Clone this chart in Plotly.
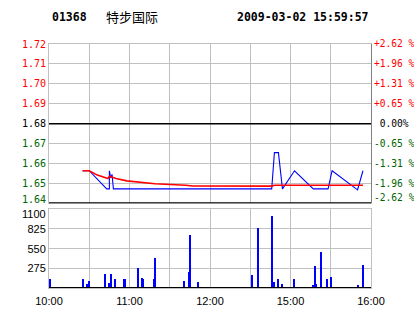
import plotly.graph_objects as go

# ---- data ----
code = "01368"
name = "特步国际"
stamp = "2009-03-02 15:59:57"
prev_close = 1.68
price_step = 0.011

time_ticks = [0, 30, 60, 90, 120, 150, 180, 210, 240]
time_labels = ["10:00", "", "11:00", "", "12:00", "", "15:00", "", "16:00"]

price_t = [25, 30, 43, 45, 45, 46, 47, 48, 166, 168, 171, 174, 183, 197, 208, 211, 229, 230, 234]
price_v = [1.654, 1.654, 1.644, 1.644, 1.654, 1.650, 1.652, 1.644, 1.644, 1.664, 1.664,
           1.644, 1.654, 1.644, 1.644, 1.654, 1.644, 1.6435, 1.654]

avg_t = [25, 30, 36, 44, 45, 48, 50, 58, 68, 79, 102, 107, 166, 168, 234]
avg_v = [1.654, 1.654, 1.6516, 1.6497, 1.6510, 1.6501, 1.6497, 1.6484, 1.6475, 1.6468,
         1.6460, 1.6456, 1.6455, 1.6460, 1.6460]

vol_t = [1, 25, 28, 30, 42, 45, 46, 49, 56, 57, 66, 69, 70, 78, 79, 101, 104, 105, 111,
         151, 156, 166, 168, 171, 174, 183, 197, 198, 199, 203, 207, 210, 230, 234]
vol_v = [116, 116, 46, 88, 185, 60, 185, 116, 116, 116, 269, 130, 116, 116, 422, 88, 213, 742, 74,
         171, 840, 998, 74, 116, 46, 116, 39, 297, 46, 505, 116, 144, 32, 311]

vol_ticks = [275, 550, 825, 1100]

RED = "#ff0000"
GREEN = "#006400"
GRID = "#c0c0c0"

# price / percent tick labels
p_vals = [round(prev_close + k * price_step, 4) for k in range(-4, 5)]


def labels(v):
    pct = (v - prev_close) / prev_close * 100
    if abs(pct) < 1e-9:
        return "black", f"{v:.2f}", " 0.00%"
    if pct > 0:
        return RED, f"{v:.2f}", f"+{pct:.2f} %"
    return GREEN, f"{v:.2f}", f"-{abs(pct):.2f} %"


left_txt, right_txt = [], []
for i, v in enumerate(p_vals):
    c, l, r = labels(v)
    if i == 0:  # bottom edge label drawn as annotation (shifted up)
        left_txt.append("")
        right_txt.append("")
    else:
        left_txt.append(f'<span style="color:{c}">{l}</span>')
        right_txt.append(f'<span style="color:{c}">{r}</span>')

prange = [p_vals[0], p_vals[-1]]

fig = go.Figure()
fig.add_trace(go.Scatter(x=price_t, y=price_v, mode="lines", line=dict(color="#0000ff", width=1.1),
                         xaxis="x", yaxis="y", hoverinfo="skip"))
fig.add_trace(go.Scatter(x=avg_t, y=avg_v, mode="lines", line=dict(color=RED, width=1.6),
                         xaxis="x", yaxis="y", hoverinfo="skip"))
fig.add_trace(go.Scatter(x=[0], y=[prev_close], mode="lines", opacity=0,
                         xaxis="x", yaxis="y3", hoverinfo="skip"))
fig.add_trace(go.Bar(x=vol_t, y=vol_v, width=0.8, marker=dict(color="#0000ff", line=dict(width=0)),
                     xaxis="x2", yaxis="y2", hoverinfo="skip"))

price_dom = [0.347, 1.0]
vol_dom = [0.0, 0.3225]

mono = dict(family="DejaVu Sans Mono", size=10, color="black")
sans = dict(family="Liberation Sans", size=11, color="black")

PLOT_W, PLOT_H, ML, MT = 322, 244, 49, 44


def px_x(px):
    return (px - ML) / PLOT_W


def px_y(py):
    return (MT + PLOT_H - py) / PLOT_H


c0, l0, r0 = labels(p_vals[0])

fig.update_layout(
    width=414, height=314,
    margin=dict(l=49, r=43, t=44, b=26, autoexpand=False),
    paper_bgcolor="white", plot_bgcolor="white",
    showlegend=False, bargap=0,
    xaxis=dict(domain=[0, 1], anchor="y", range=[0, 240], tickvals=time_ticks, automargin=False,
               showticklabels=False, ticks="", showgrid=True, gridcolor=GRID, gridwidth=1,
               showline=True, linecolor=GRID, linewidth=1, mirror=True, zeroline=False),
    xaxis2=dict(domain=[0, 1], anchor="y2", matches="x", range=[0, 240], tickvals=time_ticks,
                ticktext=time_labels, ticks="outside", ticklen=3, tickcolor="white", automargin=False,
                tickfont=sans, showgrid=True, gridcolor=GRID, gridwidth=1,
                showline=True, linecolor=GRID, linewidth=1, mirror=True, zeroline=False),
    yaxis=dict(domain=price_dom, anchor="x", range=prange, tickvals=p_vals, ticktext=left_txt,
               tickfont=mono, ticks="", showgrid=True, gridcolor=GRID, gridwidth=1, automargin=False,
               showline=True, linecolor=GRID, linewidth=1, zeroline=False),
    yaxis3=dict(domain=price_dom, anchor="x", overlaying="y", side="right", range=prange,
                tickvals=p_vals, ticktext=right_txt, tickfont=dict(mono, size=9.6), ticks="",
                automargin=False,
                showgrid=False, showline=True, linecolor="#808080", linewidth=1, zeroline=False),
    yaxis2=dict(domain=vol_dom, anchor="x2", range=[0, 1100], tickvals=vol_ticks,
                ticktext=["275", "550", "825", ""],
                tickfont=sans, ticks="", showgrid=True, gridcolor=GRID, gridwidth=1, automargin=False,
                showline=True, linecolor=GRID, linewidth=1, mirror=True, zeroline=False),
    shapes=[
        dict(type="line", xref="x domain", yref="y", x0=0, x1=1, y0=prev_close, y1=prev_close,
             line=dict(color="black", width=1.5)),
        dict(type="line", xref="x domain", yref="y", x0=0, x1=1, y0=prange[0], y1=prange[0],
             line=dict(color="black", width=2)),
        dict(type="line", xref="x2 domain", yref="y2", x0=0, x1=1, y0=0, y1=0,
             line=dict(color="black", width=2)),
    ],
    annotations=[
        dict(text=f"<b>{code}</b>", xref="paper", yref="paper", x=px_x(50), y=px_y(16.5),
             xanchor="left", yanchor="middle", showarrow=False,
             font=dict(family="DejaVu Sans Mono", size=11.5, color="black")),
        dict(text=name, xref="paper", yref="paper", x=px_x(104), y=px_y(16),
             xanchor="left", yanchor="middle", showarrow=False,
             font=dict(family="Noto Sans CJK SC", size=13, color="black")),
        dict(text=f"<b>{stamp}</b>", xref="paper", yref="paper", x=px_x(371), y=px_y(16.5),
             xanchor="right", yanchor="middle", showarrow=False,
             font=dict(family="DejaVu Sans Mono", size=11.5, color="black")),
        # shifted edge labels
        dict(text=l0, xref="paper", yref="paper", x=px_x(47.5), y=px_y(199),
             xanchor="right", yanchor="middle", showarrow=False, xshift=0,
             font=dict(mono, color=c0)),
        dict(text=r0, xref="paper", yref="paper", x=px_x(371.5), y=px_y(198),
             xanchor="left", yanchor="middle", showarrow=False,
             font=dict(mono, size=9.6, color=c0)),
        dict(text=str(vol_ticks[-1]), xref="paper", yref="paper", x=px_x(47.5), y=px_y(213.5),
             xanchor="right", yanchor="middle", showarrow=False, font=sans),
    ],
)

fig.write_html("out.html")
